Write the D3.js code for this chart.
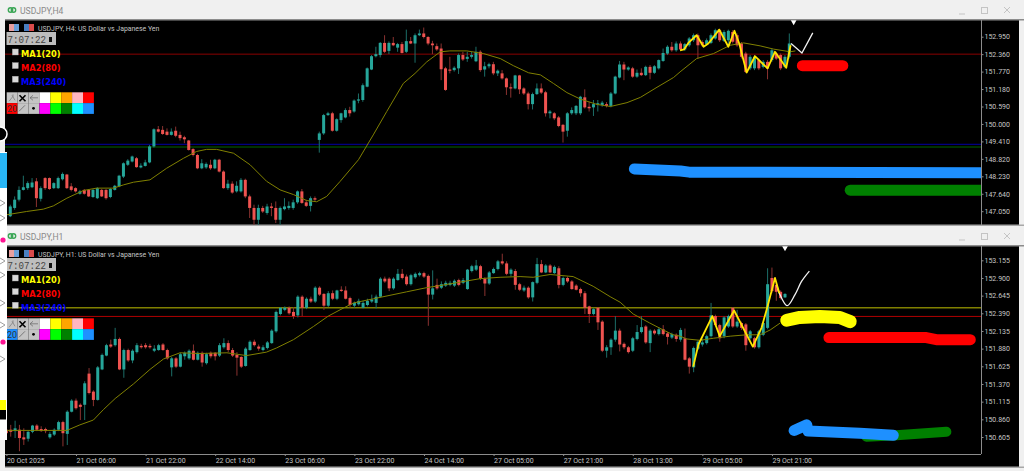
<!DOCTYPE html>
<html><head><meta charset="utf-8">
<script src="https://cdn.jsdelivr.net/npm/d3@7"></script>
<style>html,body{margin:0;padding:0;background:#f0f0f0;overflow:hidden}svg{display:block}</style>
</head><body><div id="chart"></div>
<script>
const h4Open=[146.88,147.16,147.44,147.77,147.83,147.86,148.06,147.47,148.17,148.17,
147.83,147.83,148.13,148.29,147.89,147.83,147.64,147.77,147.77,147.53,
147.49,147.77,147.77,147.53,147.77,147.89,148.22,148.62,148.73,148.84,
148.53,148.58,148.70,149.24,149.82,149.80,149.74,149.63,149.77,149.63,
149.55,149.44,149.15,148.95,148.50,148.53,148.62,148.50,148.79,148.39,
147.83,147.98,147.72,147.72,148.11,147.55,147.16,146.76,147.16,146.99,
147.21,147.16,146.76,147.12,147.16,147.16,147.35,147.72,147.35,147.23,
147.49,149.46,149.68,150.30,150.36,149.77,150.13,150.22,150.47,150.42,
150.79,150.81,151.26,151.84,152.29,152.33,152.74,152.47,152.74,152.58,
152.70,152.44,152.80,152.72,153.0,153.06,152.94,152.72,152.63,152.55,
151.88,151.84,151.82,151.88,152.33,152.20,152.27,152.12,152.44,151.84,
151.95,152.02,151.71,151.71,151.54,151.24,151.20,151.64,151.20,151.03,
150.67,151.01,151.20,151.07,150.36,150.36,150.22,149.97,149.77,150.36,
150.36,150.36,150.90,150.58,150.56,150.65,150.64,150.67,150.61,151.03,
151.57,152.01,151.84,151.88,151.60,151.73,151.65,151.93,151.73,151.88,
152.13,152.38,152.61,152.49,152.72,152.52,152.66,152.83,153.0,152.77,
152.70,152.74,152.89,153.17,152.81,152.83,153.11,153.0,152.72,152.38,
151.88,151.88,152.16,151.93,152.10,152.16,152.38,152.33,151.93,152.27];
const h4High=[147.27,147.55,147.89,148.25,148.06,148.17,148.17,147.89,148.2,148.19,
148.03,148.22,148.36,148.31,148.0,147.86,147.77,147.80,147.80,147.80,
147.86,147.80,147.80,147.83,147.94,148.28,148.70,148.81,148.93,148.88,
148.67,148.79,149.29,149.85,149.93,149.93,149.85,149.85,149.91,149.74,
149.60,149.46,149.18,148.99,148.81,148.70,148.79,148.82,148.82,148.43,
148.11,148.06,148.06,148.17,148.15,147.61,147.27,147.27,147.23,147.30,
147.33,147.38,147.21,147.49,147.38,147.44,147.75,147.80,147.44,147.55,
147.55,149.74,150.34,150.41,150.41,150.19,150.38,150.53,150.58,150.83,
151.03,151.37,151.91,152.33,152.61,152.77,153.0,152.79,152.94,152.74,
152.77,153.19,152.94,153.06,153.19,153.26,152.97,152.81,152.72,152.72,
151.93,152.27,151.95,152.38,152.44,152.44,152.44,152.61,152.49,152.10,
152.07,152.10,151.84,151.82,151.57,151.37,151.66,151.66,151.24,151.09,
151.06,151.37,151.37,151.12,150.47,150.40,150.27,150.0,150.40,150.56,
150.64,150.95,151.17,150.75,150.81,150.81,150.78,150.74,151.08,151.63,
152.13,152.10,151.95,151.93,151.84,151.88,151.97,151.99,151.99,152.18,
152.55,152.66,152.77,152.79,152.79,152.74,152.94,153.06,153.06,152.83,
152.89,153.06,153.22,153.22,153.17,153.19,153.17,153.06,152.77,152.44,
152.33,152.33,152.21,152.16,152.16,152.54,152.44,152.38,152.33,153.06];
const h4Low=[146.85,147.10,147.38,147.75,147.77,147.83,147.19,147.38,147.77,147.77,
147.80,147.80,148.09,147.80,147.72,147.68,147.61,147.61,147.53,147.50,
147.46,147.53,147.44,147.49,147.75,147.86,148.17,148.58,148.70,148.52,
148.50,148.56,148.67,149.20,149.71,149.63,149.61,149.61,149.55,149.44,
149.35,149.10,148.90,148.47,148.47,148.48,148.45,148.47,148.36,147.81,
147.77,147.64,147.68,147.68,147.49,146.82,146.59,146.59,146.99,146.93,
146.88,146.65,146.57,147.08,147.10,147.10,147.30,147.30,147.19,147.04,
147.38,149.03,149.63,150.27,149.74,149.74,150.04,150.19,150.25,150.38,
150.70,150.75,151.24,151.82,152.25,152.25,152.40,152.36,152.63,152.44,
152.38,152.40,152.70,152.07,152.97,152.89,152.66,152.36,152.47,151.48,
151.12,151.71,151.77,151.69,152.13,152.10,152.21,152.09,151.76,151.60,
151.88,151.65,151.62,151.50,150.98,150.89,151.17,151.01,150.98,150.49,
150.49,150.98,151.01,150.25,150.19,150.13,149.89,149.37,149.57,150.31,
150.30,150.30,150.52,150.42,150.27,150.42,150.58,150.56,150.56,151.0,
151.54,151.48,151.80,151.56,151.56,151.62,151.62,151.51,151.69,151.84,
152.10,152.33,152.44,152.44,152.47,152.47,152.61,152.77,152.21,152.61,
152.65,152.70,152.85,152.77,152.77,152.61,152.72,152.61,152.21,151.73,
151.82,151.82,151.82,151.88,151.51,152.10,152.16,151.82,151.88,152.21];
const h4Close=[147.21,147.44,147.77,147.86,148.0,148.02,147.49,147.83,147.83,147.80,
148.0,148.17,148.31,147.83,147.77,147.72,147.72,147.64,147.55,147.77,
147.83,147.55,147.49,147.80,147.91,148.25,148.67,148.76,148.90,148.54,
148.59,148.70,149.24,149.82,149.74,149.66,149.63,149.74,149.60,149.52,
149.48,149.12,148.95,148.50,148.67,148.65,148.50,148.79,148.39,147.83,
147.98,147.68,147.91,148.11,147.55,147.16,146.76,147.16,147.04,147.21,
147.16,146.76,147.16,147.21,147.23,147.35,147.72,147.33,147.23,147.49,
147.44,149.68,150.30,150.36,149.77,150.16,150.36,150.47,150.36,150.79,
150.83,151.31,151.88,152.29,152.36,152.74,152.44,152.74,152.66,152.70,
152.40,152.80,152.72,153.0,153.06,152.94,152.72,152.66,152.52,151.85,
151.15,151.82,151.90,152.33,152.18,152.27,152.33,152.44,151.82,151.95,
152.02,151.71,151.80,151.54,151.24,151.20,151.64,151.17,151.03,150.67,
151.01,151.20,151.06,150.36,150.42,150.19,149.93,149.74,150.36,150.47,
150.61,150.92,150.56,150.53,150.67,150.70,150.72,150.61,151.03,151.60,
152.01,151.84,151.91,151.60,151.73,151.65,151.93,151.73,151.95,152.16,
152.40,152.61,152.49,152.72,152.52,152.70,152.89,153.0,152.66,152.66,
152.83,153.0,153.17,152.83,153.11,153.15,152.78,152.66,152.27,151.76,
152.27,152.27,151.88,152.10,151.88,152.49,152.21,151.88,152.27,152.72];

const h1Open=[150.71,150.71,150.69,150.71,150.60,150.58,150.68,150.77,150.72,150.72,
150.60,150.64,150.71,150.82,150.65,150.97,151.13,151.07,151.07,151.52,
151.26,151.14,151.58,151.78,151.94,151.93,152.02,151.58,151.86,151.71,
151.83,151.92,151.93,151.92,151.85,151.86,151.94,151.86,151.61,151.74,
151.62,151.77,151.74,151.85,151.72,151.82,151.67,151.82,151.82,151.78,
151.90,151.96,151.86,151.79,151.76,151.63,151.86,151.98,151.91,151.86,
151.89,151.96,152.13,152.38,152.44,152.47,152.41,152.36,152.63,152.47,
152.60,152.56,152.76,152.67,152.50,152.68,152.60,152.73,152.72,152.61,
152.50,152.52,152.47,152.51,152.56,152.54,152.63,152.89,152.89,152.75,
152.87,152.96,152.92,152.81,152.91,152.94,152.97,152.93,152.66,152.80,
152.76,152.79,152.80,152.79,152.87,152.83,152.74,153.0,153.02,153.07,
152.89,152.82,152.97,153.03,153.14,153.11,152.96,153.0,152.81,152.72,
152.76,152.62,152.83,153.10,152.98,153.08,152.97,153.04,152.80,152.90,
152.85,152.79,152.74,152.68,152.49,152.38,152.47,152.27,151.85,151.90,
152.01,152.14,151.95,151.90,151.85,152.02,152.12,152.20,151.96,152.14,
152.09,152.16,152.10,152.04,152.08,152.01,152.03,151.74,151.61,151.88,
151.94,151.96,152.06,152.35,152.22,152.06,152.20,152.47,152.20,152.25,
152.23,152.03,152.03,151.90,152.08,152.18,152.90,152.80,152.70,152.62];
const h1High=[150.73,150.78,150.84,150.78,150.73,150.69,150.78,150.79,150.76,150.74,
150.68,150.73,150.84,150.84,150.99,151.15,151.16,151.09,151.41,151.60,
151.28,151.63,151.81,151.95,152.01,152.18,152.04,151.88,151.88,151.87,
151.96,151.95,151.96,151.95,151.93,151.95,151.96,151.88,151.76,151.76,
151.82,151.84,151.87,151.94,151.84,151.84,151.82,151.84,151.83,151.96,
152.03,152.0,151.89,151.83,151.77,151.90,152.0,152.01,151.94,151.93,
151.99,152.16,152.43,152.48,152.49,152.49,152.48,152.65,152.65,152.62,
152.63,152.78,152.78,152.68,152.71,152.72,152.73,152.78,152.78,152.63,
152.56,152.60,152.57,152.60,152.66,152.66,152.91,152.92,152.91,152.91,
153.03,153.03,152.95,152.96,152.98,152.99,152.99,152.95,153.01,152.89,
152.85,152.86,152.86,152.88,152.89,152.90,153.03,153.09,153.16,153.09,
152.91,153.0,153.05,153.16,153.25,153.14,153.04,153.03,152.83,152.79,
152.78,152.85,153.19,153.16,153.10,153.10,153.08,153.07,152.92,152.92,
152.87,152.81,152.76,152.71,152.50,152.47,152.48,152.29,151.93,152.03,
152.35,152.17,151.97,151.92,152.05,152.22,152.35,152.22,152.16,152.16,
152.19,152.22,152.12,152.11,152.10,152.18,152.17,151.76,151.91,152.0,
152.02,152.08,152.54,152.37,152.24,152.35,152.37,152.48,152.44,152.27,
152.25,152.15,152.05,152.15,152.27,153.04,153.05,152.83,152.72,152.68];
const h1Low=[150.64,150.61,150.59,150.40,150.49,150.54,150.66,150.69,150.68,150.66,
150.58,150.62,150.69,150.47,150.49,150.96,151.0,150.85,150.85,151.22,
151.05,151.13,151.57,151.77,151.89,151.91,151.57,151.46,151.69,151.67,
151.81,151.88,151.88,151.88,151.83,151.85,151.85,151.72,151.48,151.60,
151.61,151.72,151.72,151.71,151.71,151.62,151.65,151.74,151.71,151.76,
151.88,151.83,151.76,151.49,151.60,151.62,151.85,151.91,151.85,151.84,
151.87,151.95,152.11,152.36,152.42,152.37,152.31,152.33,152.35,152.45,
152.54,152.54,152.64,152.44,152.48,152.58,152.58,152.70,152.59,152.47,
152.47,152.50,152.46,152.49,152.54,152.46,152.62,152.83,152.71,152.73,
152.86,152.88,152.79,152.79,152.89,152.92,152.90,152.21,152.59,152.73,
152.74,152.77,152.78,152.77,152.78,152.81,152.73,152.98,153.0,152.87,
152.64,152.80,152.96,153.01,153.09,152.94,152.92,152.73,152.71,152.70,
152.60,152.56,152.81,152.97,152.97,152.97,152.96,152.75,152.78,152.83,
152.73,152.72,152.63,152.38,152.25,152.36,152.15,151.83,151.75,151.79,
151.98,151.84,151.87,151.81,151.83,152.0,152.10,151.95,151.83,152.08,
152.07,152.07,151.94,152.02,151.98,151.98,151.71,151.52,151.54,151.86,
151.91,151.94,152.04,152.20,151.98,152.03,152.18,152.18,152.18,152.15,
151.85,152.01,151.88,151.88,152.06,152.16,152.68,152.57,152.59,152.61];
const h1Close=[150.66,150.68,150.73,150.59,150.57,150.68,150.77,150.71,150.69,150.69,
150.65,150.71,150.82,150.66,150.97,151.13,151.02,151.04,151.38,151.24,
151.14,151.61,151.79,151.93,151.91,152.02,151.58,151.86,151.71,151.85,
151.93,151.90,151.90,151.90,151.88,151.93,151.86,151.74,151.74,151.62,
151.80,151.82,151.85,151.72,151.82,151.68,151.80,151.77,151.77,151.93,
151.96,151.86,151.78,151.75,151.62,151.88,151.98,151.93,151.88,151.90,
151.97,152.14,152.41,152.47,152.47,152.39,152.35,152.63,152.47,152.60,
152.56,152.76,152.66,152.50,152.68,152.60,152.72,152.72,152.60,152.51,
152.54,152.57,152.54,152.57,152.59,152.63,152.89,152.85,152.75,152.89,
152.96,152.90,152.81,152.94,152.96,152.97,152.92,152.66,152.75,152.75,
152.81,152.83,152.83,152.86,152.80,152.87,153.02,153.07,153.08,152.89,
152.82,152.98,153.03,153.14,153.11,152.96,153.02,152.80,152.73,152.76,
152.62,152.84,153.10,152.98,153.08,152.98,153.06,152.80,152.90,152.85,
152.74,152.73,152.68,152.47,152.38,152.45,152.26,151.85,151.90,152.01,
152.14,151.94,151.90,151.83,152.03,152.12,152.19,151.97,152.14,152.10,
152.16,152.09,152.05,152.09,152.02,152.15,151.72,151.62,151.89,151.98,
151.97,152.06,152.36,152.22,152.03,152.33,152.35,152.20,152.27,152.18,
151.93,152.13,151.90,152.13,152.25,152.81,152.71,152.70,152.61,152.67];

const h4MaBar=[-0.8,3.75,7.6,9.9,13,16.8,19.8,23.7,26,28.3,32.1,35.9,39.8,42.8,45.1,47.4,51.3,55.1,58.9,62,65.1,68.1,70.4,72.7,75.8,80,83.4,86.5,90.3,93,95.7,98.8,101,104.9,108.7,112.6,115.6,119.1,121.8,124.8,127.9,131,134.8,137.9,141.7,144.8,148.6,152.4,153.9,157.7,161.6,165.4,168.5,172.3,175.4,179.2,180.4];
const h4MaValue=[146.93,147.04,147.12,147.23,147.49,147.75,147.83,147.83,147.94,148.03,148.11,148.50,148.84,149.07,149.14,149.14,149.01,148.62,148.06,147.77,147.61,147.41,147.37,147.55,148.06,148.79,149.63,150.42,151.37,151.71,152.10,152.44,152.47,152.47,152.38,152.21,151.97,151.73,151.66,151.37,151.06,150.84,150.66,150.59,150.72,150.90,151.24,151.57,151.76,152.21,152.38,152.66,152.74,152.64,152.53,152.44,152.47];
const h1MaBar=[0.08,6.2,13.9,16.9,20,22.3,25,29.2,33,36.1,39.9,44.5,50.7,55.2,59.8,62.1,66,70.6,74,76.7,79.8,84.4,92,96.6,99.7,104.3,108.9,113.5,118.1,121.1,125,130.3,134.9,138.8,141.1,144.1,147.9,151,153.3,154.9,156.4,159.5,162.5,166.4,170.2,173.3,175.6,177.9];
const h1MaValue=[150.70,150.70,150.70,150.78,150.85,151.0,151.16,151.37,151.58,151.73,151.82,151.81,151.82,151.78,151.83,151.89,152.01,152.20,152.35,152.44,152.54,152.60,152.70,152.76,152.79,152.84,152.89,152.91,152.92,152.91,152.95,152.92,152.78,152.63,152.55,152.38,152.25,152.15,152.08,152.06,152.02,152.0,152.03,152.06,152.08,152.08,152.15,152.25];

const h4Ticks=[152.95,152.36,151.77,151.18,150.59,150.0,149.41,148.82,148.23,147.64,147.05];
const h1Ticks=[153.155,152.9,152.645,152.39,152.135,151.88,151.625,151.37,151.115,150.86,150.605];
const h1TimeBar=[0,16,32,48,64,80,96,112,128,144,160,176];
const h1TimeLabel=["20 Oct 2025","21 Oct 06:00","21 Oct 22:00","22 Oct 14:00","23 Oct 06:00","23 Oct 22:00","24 Oct 14:00","27 Oct 05:00","27 Oct 21:00","28 Oct 13:00","29 Oct 05:00","29 Oct 21:00"];

const h4Levels=[["#8b0000",152.36,1],["#000080",149.31,1.2],["#006400",149.22,1]];
const h1Levels=[["#808000",152.47,1.6],["#b00000",152.345,1]];

// hand-drawn marks: bar position and price of each stroke vertex
const h4PenBar=[153.9,154.8,155.8,157.7,159.3,160.4,162.9,165,166.4,167.5,169.2,171.1,174,175.7,178.3,179.3];
const h4PenPrice=[152.49,152.52,152.74,153.0,152.61,152.72,153.19,152.61,153.15,152.72,151.74,152.29,151.88,152.44,151.90,152.66];
const h4WhiteBar=[179.4,181.9,184.4];
const h4WhitePrice=[152.72,152.40,153.08];
const h1PenBar=[157.9,159.1,162.3,164,167.3,171.6,173.6,174.9,176.7,177.7];
const h1PenPrice=[151.62,151.94,152.35,152.06,152.43,151.91,152.18,152.47,152.90,152.68];
const h1WhiteBar=[177.1,177.7,179.5,181.3,182.8,184.6];
const h1WhitePrice=[152.80,152.68,152.50,152.66,152.85,153.0];

const h4Swipes=[
 {name:"red",color:"#ff0000",width:11,bar:[182,191.3],price:[151.97,151.97]},
 {name:"green",color:"#008000",width:11,bar:[193,225],price:[147.76,147.76]},
 {name:"blue",color:"#1e90ff",width:11,bar:[143.4,154,156,225],price:[148.48,148.41,148.37,148.35]}];
const h1Swipes=[
 {name:"yellow",color:"#ffff00",width:13,bar:[179.4,182.4,187,191.6,194],price:[152.29,152.33,152.345,152.33,152.27]},
 {name:"red",color:"#ff0000",width:11,bar:[189.1,211.5,213.8,221.6],price:[152.04,152.04,152.01,152.01]},
 {name:"green",color:"#008000",width:10,bar:[197.7,204.6,216.1],price:[150.61,150.63,150.68]},
 {name:"blue",color:"#1e90ff",width:11,bar:[181.1,184,184.3,196.2,203.9],price:[150.70,150.78,150.69,150.66,150.63]}];

const W=1024,H=471,UP="#26a69a",DOWN="#ef5350",AXISX=981;
const svg=d3.select("#chart").append("svg").attr("width",W).attr("height",H).attr("font-family","Roboto");
svg.append("rect").attr("width",W).attr("height",H).attr("fill","#f0f0f0");

function pane(o){
  const g=svg.append("g");
  const x=d3.scaleLinear().domain([0,179]).range(o.xRange);
  const y=d3.scaleLinear().domain([o.ticks[o.ticks.length-1],o.ticks[0]]).range(o.yRange);
  // title bar
  g.append("text").attr("x",20).attr("y",o.top-6.5).attr("font-size",8.6).attr("fill","#8a8a8a").text(o.title);
  const ic=g.append("g").attr("fill","none").attr("stroke","#3aa655").attr("stroke-width",1.4);
  ic.append("circle").attr("cx",10.5).attr("cy",o.top-10).attr("r",2.2);
  ic.append("circle").attr("cx",13.5).attr("cy",o.top-10).attr("r",2.2);
  const ws=g.append("g").attr("stroke","#c4c4c4").attr("fill","none").attr("stroke-width",1);
  ws.append("line").attr("x1",959).attr("x2",965).attr("y1",o.top-6).attr("y2",o.top-6);
  ws.append("rect").attr("x",981.5).attr("y",o.top-12.5).attr("width",6).attr("height",6);
  ws.append("path").attr("d",`M1004 ${o.top-13}l6 6M1010 ${o.top-13}l-6 6`);
  // window
  g.append("rect").attr("x",5).attr("y",o.top).attr("width",1014).attr("height",o.bottom-o.top).attr("fill","#000");
  g.append("rect").attr("x",0).attr("y",o.top-1).attr("width",1024).attr("height",1.5).attr("fill","#8c8c8c");
  g.append("rect").attr("x",5).attr("y",o.bottom-0.5).attr("width",1019).attr("height",1.5).attr("fill","#a8a8a8");
  const cid="clip"+o.id;
  svg.append("clipPath").attr("id",cid).append("rect").attr("x",5).attr("y",o.top).attr("width",AXISX-5).attr("height",o.plotBottom-o.top);
  const p=g.append("g").attr("clip-path",`url(#${cid})`);
  p.selectAll("line.level").data(o.levels).join("line").attr("class","level")
    .attr("x1",5).attr("x2",AXISX).attr("y1",d=>y(d[1])).attr("y2",d=>y(d[1]))
    .attr("stroke",d=>d[0]).attr("stroke-width",d=>d[2]);
  // candles
  const idx=d3.range(o.open.length);
  p.selectAll("line.wick").data(idx).join("line").attr("class","wick")
    .attr("x1",i=>x(i)).attr("x2",i=>x(i)).attr("y1",i=>y(o.high[i])).attr("y2",i=>y(o.low[i]))
    .attr("stroke",i=>o.close[i]>=o.open[i]?"#1c6e68":"#8a3230").attr("stroke-width",1);
  p.selectAll("rect.body").data(idx).join("rect").attr("class","body")
    .attr("x",i=>x(i)-1.5).attr("width",3)
    .attr("y",i=>y(Math.max(o.open[i],o.close[i])))
    .attr("height",i=>Math.max(1.2,Math.abs(y(o.open[i])-y(o.close[i]))))
    .attr("fill",i=>o.close[i]>=o.open[i]?UP:DOWN);
  // MA
  const line=d3.line().x(d=>x(d[0])).y(d=>y(d[1]));
  p.append("path").attr("d",line(d3.zip(o.maBar,o.maValue))).attr("fill","none").attr("stroke","#808000").attr("stroke-width",1);
  // swipes
  p.selectAll("path.swipe").data(o.swipes).join("path").attr("class","swipe")
    .attr("d",s=>line.curve(d3.curveLinear)(d3.zip(s.bar,s.price)))
    .attr("fill","none").attr("stroke",s=>s.color).attr("stroke-width",s=>s.width)
    .attr("stroke-linecap","round").attr("stroke-linejoin","round");
  p.append("path").attr("d",d3.line().x(d=>x(d[0])).y(d=>y(d[1])).curve(o.whiteCurve)(d3.zip(o.whiteBar,o.whitePrice)))
    .attr("fill","none").attr("stroke","#f2f2f2").attr("stroke-width",1.3);
  p.append("path").attr("d",line(d3.zip(o.penBar,o.penPrice))).attr("fill","none").attr("stroke","#ffe600").attr("stroke-width",1.8).attr("stroke-linejoin","round");
  // shift marker
  g.append("path").attr("d",d3.symbol(d3.symbolTriangle,14)()).attr("fill","#fff")
    .attr("transform",`translate(${x(o.shiftBar)},${o.top+2}) rotate(180)`);
  // price axis
  const ax=g.append("g").attr("transform",`translate(${AXISX},0)`)
    .call(d3.axisRight(y).tickValues(o.ticks).tickSize(2.5).tickPadding(1).tickFormat(d3.format(".3f")));
  ax.select(".domain").attr("stroke","#8c8c8c").attr("d",`M0.5 ${o.top}V${o.plotBottom}`);
  ax.selectAll(".tick line").attr("stroke","#8c8c8c");
  ax.selectAll("text").attr("fill","#c6c6c6").attr("font-size",7).attr("font-family","Roboto");
  // overlay
  ov(o);
  return {x,y,g};
}

function ov(o){
  const g=svg.append("g"),t=o.top;
  g.append("rect").attr("x",9).attr("y",t+4).attr("width",10).attr("height",7).attr("fill","#e9a0a0");
  g.append("rect").attr("x",14).attr("y",t+4).attr("width",5).attr("height",7).attr("fill","#6a9fd8");
  g.append("rect").attr("x",24).attr("y",t+4).attr("width",5).attr("height",7).attr("fill","#4a7fc0");
  g.append("rect").attr("x",29).attr("y",t+4).attr("width",5).attr("height",7).attr("fill","#d94b4b");
  g.append("text").attr("x",38).attr("y",t+11).attr("font-size",6.9).attr("fill","#c4c4c4").text(o.header);
  const cy=t+o.dy;
  g.append("rect").attr("x",6.5).attr("y",cy+12).attr("width",49.5).attr("height",13).attr("fill","#bdbdbd");
  g.append("text").attr("x",7.5).attr("y",cy+22.5).attr("font-family","Liberation Mono").attr("font-size",11.5).attr("fill","#444")
    .attr("textLength",38.5).attr("lengthAdjust","spacingAndGlyphs").text("7:07:22");
  g.append("rect").attr("x",49).attr("y",cy+17).attr("width",3).attr("height",5).attr("fill","#111");
  const mas=[["MA1(20)","#ffff00"],["MA2(80)","#ff0000"],["MA3(240)","#0000ff"]];
  mas.forEach((m,k)=>{
    const yy=cy+29+k*13.6;
    g.append("rect").attr("x",12.3).attr("y",yy).attr("width",6).attr("height",6).attr("fill","#d8d8d8").attr("stroke","#999").attr("stroke-width",.4);
    g.append("text").attr("x",21).attr("y",yy+8.3).attr("font-family","DejaVu Sans").attr("font-weight","bold").attr("font-size",8.3).attr("fill",m[1]).text(m[0]);
  });
  const row1=["#c4c4c4","#c4c4c4","#c4c4c4","#ffffff","#ffff00","#ffa500","#ffb6c1","#ff0000"];
  const row2=[o.sizeCell,"#c4c4c4","#c4c4c4","#ff00ff","#00ff00","#008000","#00ffff","#1e90ff"];
  const py=cy+72.3;
  [row1,row2].forEach((r,ri)=>r.forEach((c,ci)=>{
    g.append("rect").attr("x",6.7+ci*10.9).attr("y",py+ri*10.8).attr("width",10.9).attr("height",10.8).attr("fill",c);
  }));
  g.append("path").attr("d",`M19.5 ${py+3}l6 6M25.5 ${py+3}l-6 6`).attr("stroke","#000").attr("stroke-width",1.6);
  g.append("path").attr("d",`M30 ${py+5.5}h8M30 ${py+5.5}l3 -2.5M30 ${py+5.5}l3 2.5`).attr("stroke","#666").attr("fill","none").attr("stroke-width",.7);
  g.append("path").attr("d",`M9 ${py+9}l4 -5v-2M12 ${py+3}l3 5`).attr("stroke","#777").attr("fill","none").attr("stroke-width",.7);
  g.append("text").attr("x",7).attr("y",py+19.3).attr("font-size",9).attr("fill","#333").text("20");
  g.append("path").attr("d",`M19 ${py+19}l6 -6`).attr("stroke","#666").attr("stroke-width",.8);
  g.append("circle").attr("cx",33.5).attr("cy",py+16).attr("r",1.4).attr("fill","#000");
}

const top4=pane({id:"h4",top:20,bottom:225,plotBottom:225,dy:0,xRange:[10.3,789.3],yRange:[211.2,36.7],ticks:h4Ticks,
  title:"USDJPY,H4",header:"USDJPY, H4:  US Dollar vs Japanese Yen",levels:h4Levels,
  open:h4Open,high:h4High,low:h4Low,close:h4Close,maBar:h4MaBar,maValue:h4MaValue,swipes:h4Swipes,
  penBar:h4PenBar,penPrice:h4PenPrice,whiteBar:h4WhiteBar,whitePrice:h4WhitePrice,whiteCurve:d3.curveLinear,shiftBar:180,sizeCell:"#ff0000"});
const bot1=pane({id:"h1",top:246,bottom:467,plotBottom:454,dy:0,xRange:[6.4,785],yRange:[437,260.3],ticks:h1Ticks,
  title:"USDJPY,H1",header:"USDJPY, H1:  US Dollar vs Japanese Yen",levels:h1Levels,
  open:h1Open,high:h1High,low:h1Low,close:h1Close,maBar:h1MaBar,maValue:h1MaValue,swipes:h1Swipes,
  penBar:h1PenBar,penPrice:h1PenPrice,whiteBar:h1WhiteBar,whitePrice:h1WhitePrice,whiteCurve:d3.curveCatmullRom,shiftBar:179,sizeCell:"#1e90ff"});

// time axis of H1 pane
const timeAxis=svg.append("g").attr("transform","translate(0,454)")
  .call(d3.axisBottom(bot1.x).tickValues(h1TimeBar).tickSize(2).tickPadding(2.5).tickFormat((d,i)=>h1TimeLabel[i]));
timeAxis.select(".domain").attr("stroke","#8c8c8c").attr("d",`M5 0.5H${AXISX}`);
timeAxis.selectAll(".tick line").attr("stroke","#8c8c8c");
timeAxis.selectAll("text").attr("text-anchor","start").attr("fill","#c6c6c6").attr("font-size",7).attr("font-family","Roboto");

// overlapping drawing toolbar at the left edge
const tb=svg.append("g");
tb.append("rect").attr("x",0).attr("y",0).attr("width",5).attr("height",152).attr("fill","#f0f0f0");
tb.append("circle").attr("cx",0).attr("cy",134).attr("r",7).attr("fill","#000").attr("stroke","#fff").attr("stroke-width",1.5);
tb.append("rect").attr("x",0).attr("y",152).attr("width",7).attr("height",288).attr("fill","#fff");
tb.append("rect").attr("x",0).attr("y",153).attr("width",7).attr("height",35).attr("fill","#29b6f6");
tb.append("circle").attr("cx",3).attr("cy",240).attr("r",2.6).attr("fill","#ff1493");
tb.append("circle").attr("cx",3).attr("cy",342).attr("r",2.6).attr("fill","#ff1493");
tb.append("rect").attr("x",0).attr("y",400).attr("width",6).attr("height",10).attr("fill","#ffff00");
tb.append("rect").attr("x",0).attr("y",410).attr("width",6).attr("height",9.5).attr("fill","#000");
[200,215,258,272,300,322,356].forEach(v=>{
  tb.append("path").attr("d",`M0 ${v}l5 3l-5 3`).attr("fill","none").attr("stroke","#888").attr("stroke-width",.8);
});
</script></body></html>
